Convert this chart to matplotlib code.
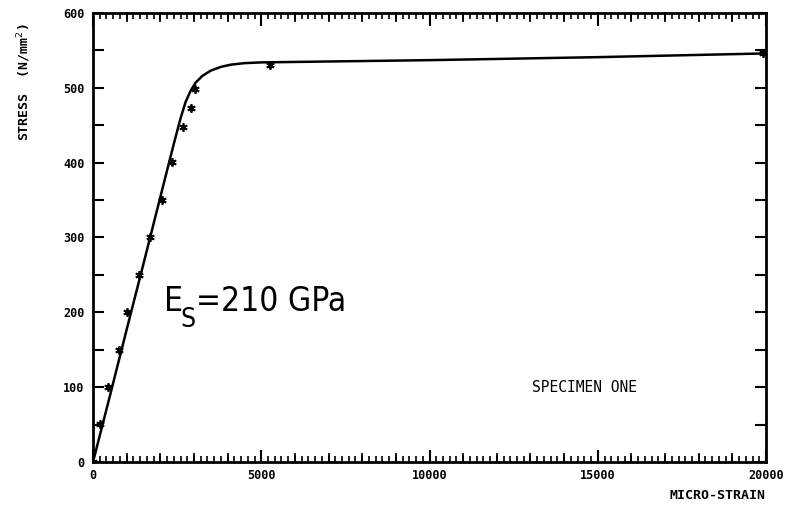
import matplotlib
matplotlib.use('Agg')
import matplotlib.pyplot as plt
from matplotlib.ticker import MultipleLocator

# measured points (asterisks)
strain_pts = [0, 210, 450, 770, 1010, 1370, 1690, 2050, 2350, 2680, 2910, 3030, 5260, 19900]
stress_pts = [0, 51, 100, 150, 200, 250, 300, 350, 401, 448, 473, 499, 531, 546]

# fitted curve
strain_fit = [0, 500, 1000, 1500, 2000, 2400, 2600, 2750, 2900, 3050, 3250, 3500, 3800,
              4100, 4500, 5000, 10000, 15000, 20000]
stress_fit = [0, 88, 177, 265, 354, 425, 459, 481, 496, 507, 516, 523, 528,
              531, 533, 534, 537, 541, 546]

x_ticks = [0, 5000, 10000, 15000, 20000]
y_ticks = [0, 100, 200, 300, 400, 500, 600]

fig = plt.figure(figsize=(7.93, 5.12), dpi=100)
ax = fig.add_axes([0.1173, 0.0977, 0.8487, 0.8769])

ax.plot(strain_fit, stress_fit, color='black', lw=1.8, solid_capstyle='round')
ax.plot(strain_pts, stress_pts, ls='none', marker=(6, 2, 0), ms=6, mew=1.3, color='black')

ax.set_xlim(0, 20000)
ax.set_ylim(0, 600)
for s in ax.spines.values():
    s.set_linewidth(2)

ax.set_xticks(x_ticks)
ax.set_yticks(y_ticks)
ax.xaxis.set_minor_locator(MultipleLocator(200))
ax.yaxis.set_minor_locator(MultipleLocator(50))
ax.tick_params(axis='x', which='major', direction='in', length=9, width=1.5, top=True, pad=5)
ax.tick_params(axis='x', which='minor', direction='in', length=4, width=1.2, top=True)
ax.tick_params(axis='y', which='both', direction='in', length=8, width=1.5, right=True, pad=6)

tick_font = dict(family='DejaVu Sans Mono', weight='bold', size=8.5)
ax.set_xticklabels([str(v) for v in x_ticks], **tick_font)
ax.set_yticklabels([str(v) for v in y_ticks], **tick_font)

# longer ticks every 1000 along x
for xv in range(1000, 20000, 1000):
    ax.plot([xv, xv], [0, 11], color='black', lw=1.3, clip_on=False)
    ax.plot([xv, xv], [600, 589], color='black', lw=1.3, clip_on=False)

fig.text(0.03, 0.84, 'STRESS  (N/mm$^2$)', rotation=90, ha='center', va='center',
         family='DejaVu Sans Mono', weight='bold', size=9.5)
fig.text(0.965, 0.033, 'MICRO-STRAIN', ha='right', va='center',
         family='DejaVu Sans Mono', weight='bold', size=9.5)

# modulus label, big subscript S set lower like the original lettering
cond = dict(family='DejaVu Sans', stretch='condensed', ha='left', va='center')
ax.text(2100, 215, 'E', size=24, **cond)
ax.text(2600, 190, 'S', size=19, **cond)
ax.text(3050, 215, '=210 GPa', size=24, **cond)
ax.text(13050, 100, 'SPECIMEN ONE', family='DejaVu Sans Mono', size=10.5,
        ha='left', va='center')

fig.savefig('out.png', dpi=100)
